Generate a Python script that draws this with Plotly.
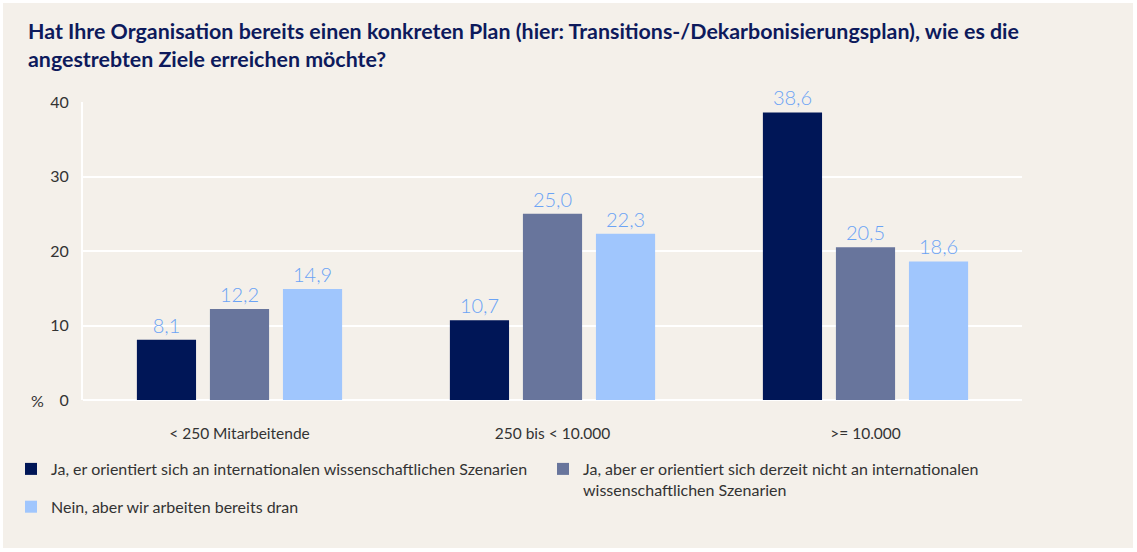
import plotly.graph_objects as go

categories = ["< 250 Mitarbeitende", "250 bis < 10.000", ">= 10.000"]
series_names = [
    "Ja, er orientiert sich an internationalen wissenschaftlichen Szenarien",
    "Ja, aber er orientiert sich derzeit nicht an internationalen<br>wissenschaftlichen Szenarien",
    "Nein, aber wir arbeiten bereits dran",
]
values_ja_int = [8.1, 10.7, 38.6]
values_ja_nicht = [12.2, 25.0, 20.5]
values_nein = [14.9, 22.3, 18.6]
colors = ["#001657", "#68759C", "#A0C6FD"]
legend_ids = ["legend", "legend2", "legend"]
y_ticks = [0, 10, 20, 30, 40]

title_text = ("Hat Ihre Organisation bereits einen konkreten Plan (hier: Transitions-/Dekarbonisierungsplan), wie es die"
              "<br>angestrebten Ziele erreichen möchte?")

W, H = 1137, 552
L, R, T, B = 83, 10, 102, 152
pw, ph = W - L - R, H - T - B
x_dom = 939 / pw

fig = go.Figure()
for i, (name, vals, col, lg) in enumerate(zip(series_names, [values_ja_int, values_ja_nicht, values_nein], colors, legend_ids)):
    fig.add_trace(go.Bar(
        x=categories, y=vals, name=name, marker=dict(color=col, line=dict(width=0)),
        texttemplate="%{y:.1f}", textposition="outside", cliponaxis=False,
        textfont=dict(family="Lato", size=20, color="#6BA3F5", weight=300),
        legend=lg, legendgroup=f"g{i}",
    ))

# outer white frame, beige card
fig.add_shape(type="rect", xref="paper", yref="paper", layer="below",
              x0=(3 - L) / pw, x1=(1133 - L) / pw, y0=(H - B - 548) / ph, y1=(H - B - 3) / ph,
              fillcolor="#F4F0EA", line=dict(width=0))

fig.add_annotation(text="%", xref="paper", yref="y", x=(46 - L) / pw, y=0, xanchor="right",
                   showarrow=False, font=dict(family="Lato", size=16, color="#333333"))

legend_common = dict(xanchor="left", yanchor="top", valign="top", traceorder="grouped",
                     font=dict(family="Lato", size=16, color="#333333"), bgcolor="rgba(0,0,0,0)")

fig.update_layout(
    width=W, height=H,
    paper_bgcolor="#FFFFFF", plot_bgcolor="rgba(0,0,0,0)",
    margin=dict(l=L, r=R, t=T, b=B, autoexpand=False),
    separators=",.",
    title=dict(text=title_text, x=28 / W, xanchor="left", xref="container",
               y=1 - 39 / H, yanchor="top", yref="container",
               font=dict(family="Lato", size=21.4, color="#0D1A5C", weight="bold")),
    barmode="group", bargap=0.30, bargroupgap=0.19,
    font=dict(family="Lato", size=16, color="#333333"),
    xaxis=dict(domain=[0, x_dom], showgrid=False, showline=False, ticks="", ticklabelstandoff=22,
               tickfont=dict(size=15.5, color="#333333"), range=[-0.5, 2.5]),
    yaxis=dict(range=[0, 40], tickvals=y_ticks, showgrid=True, gridcolor="#FFFFFF", gridwidth=2,
               showline=True, linecolor="#FFFFFF", linewidth=2, zeroline=True, zerolinecolor="#FFFFFF",
               zerolinewidth=2, ticks="", ticklabelstandoff=9,
               tickfont=dict(size=16, color="#333333")),
    legend=dict(x=(11 - L) / pw, y=(H - B - 452) / ph, tracegroupgap=14, **legend_common),
    legend2=dict(x=(543 - L) / pw, y=(H - B - 452) / ph, tracegroupgap=14, **legend_common),
    showlegend=True,
)

fig.write_html("out.html", config={"displayModeBar": False},
               post_script="document.body.style.margin='0';")
